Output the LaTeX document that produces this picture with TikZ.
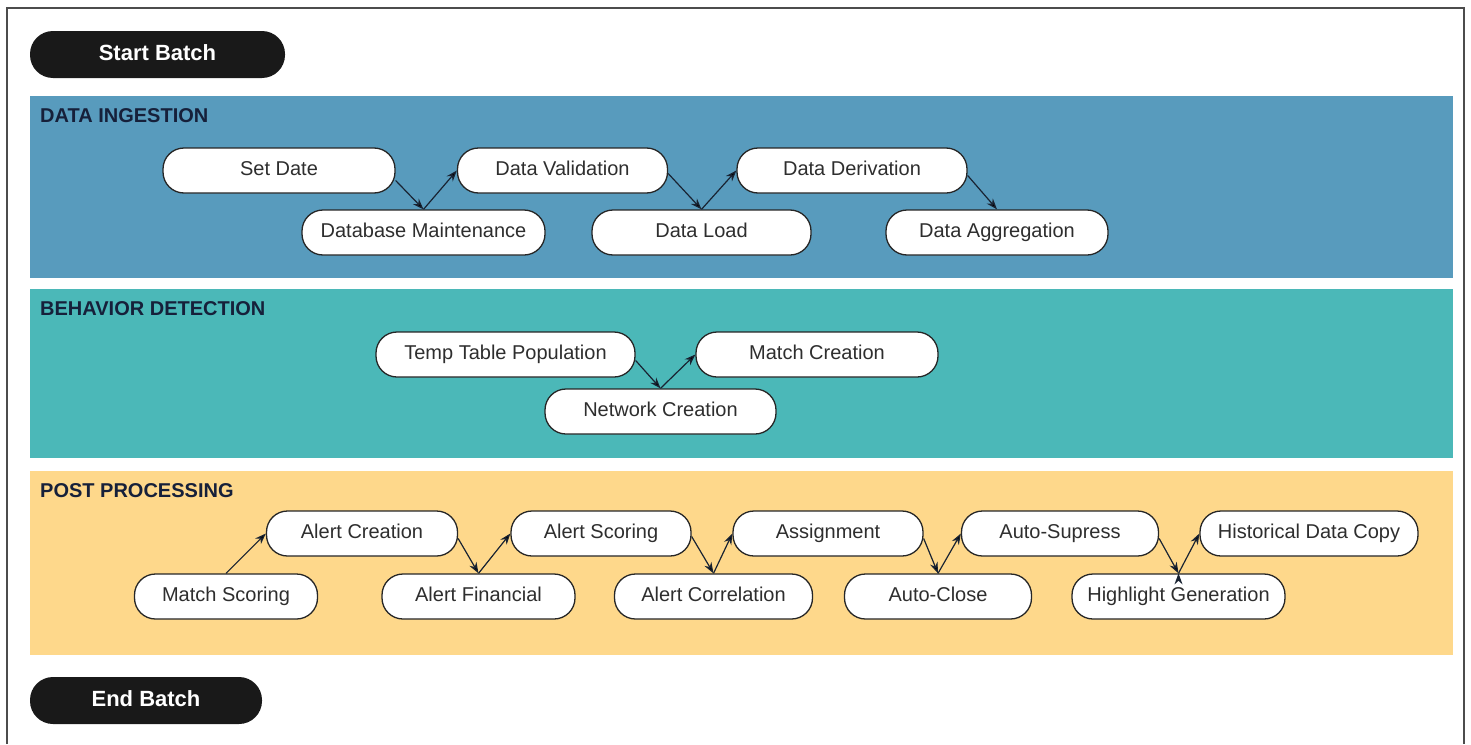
\documentclass[tikz,border=0pt]{standalone}
\usepackage{fontspec}
\setmainfont{Liberation Sans}
\usetikzlibrary{arrows.meta, positioning}

\definecolor{ingestblue}{RGB}{88,155,189}
\definecolor{detectteal}{RGB}{75,184,184}
\definecolor{postyellow}{RGB}{254,216,139}
\definecolor{titlenavy}{RGB}{22,32,58}
\definecolor{arrowdark}{RGB}{25,35,50}

\begin{document}
\begin{tikzpicture}[x=1pt,y=-1pt,>={Stealth[length=11pt,width=8pt]}]
		\tikzstyle{task}=[draw=black!85, fill=white, line width=1.3pt, rounded corners=21pt, minimum height=45pt, inner sep=0pt, text height=14pt, text depth=4pt, text=black!82, font=\fontsize{20}{24}\selectfont]
		\tikzstyle{batch}=[fill=black!90, rounded corners=23pt, minimum height=47pt, inner sep=0pt, text height=15pt, text depth=4pt, text=white, font=\fontsize{22}{26}\selectfont\bfseries]
		\tikzstyle{stage}=[anchor=west, inner sep=0pt, text=titlenavy, font=\fontsize{20}{24}\selectfont\bfseries]
		\tikzstyle{flow}=[->, draw=arrowdark, line width=1.2pt]

		\useasboundingbox (0,0) rectangle (1471,744);
		\fill[white] (0,0) rectangle (1471,744);
		\draw[line width=2.5pt, black!70] (7,744) -- (7,8) -- (1464,8) -- (1464,744);

		% bands
		\fill[ingestblue] (30,96) rectangle (1453,278);
		\fill[detectteal] (30,289) rectangle (1453,458);
		\fill[postyellow] (30,471) rectangle (1453,655);

		\node[batch, minimum width=255pt] (start) at (157.5,54.5) {Start Batch};
		\node[batch, minimum width=232pt] (end) at (146,700.5) {End Batch};

		\node[stage] (ingest) at (40,116) {DATA INGESTION};
		\node[stage] (detect) at (40,309) {BEHAVIOR DETECTION};
		\node[stage] (post) at (40,491) {POST PROCESSING};

		% data ingestion
		\node[task, minimum width=232pt] (setdate)   at (279,170.5)   {Set Date};
		\node[task, minimum width=243pt] (dbmaint)   at (423.5,232.5) {Database Maintenance};
		\node[task, minimum width=210pt] (validate)  at (562.5,170.5) {Data Validation};
		\node[task, minimum width=219pt] (dataload)  at (701.5,232.5) {Data Load};
		\node[task, minimum width=230pt] (derive)    at (852,170.5)   {Data Derivation};
		\node[task, minimum width=222pt] (aggregate) at (997,232.5)   {Data Aggregation};

		% behavior detection
		\node[task, minimum width=259pt] (temptable)   at (505.5,354.5) {Temp Table Population};
		\node[task, minimum width=242pt] (matchcreate) at (817,354.5)   {Match Creation};
		\node[task, minimum width=231pt] (network)     at (660.5,411.5) {Network Creation};

		% post processing
		\node[task, minimum width=183pt] (matchscore)  at (226,596.5)  {Match Scoring};
		\node[task, minimum width=191pt] (alertcreate) at (362,533.5)  {Alert Creation};
		\node[task, minimum width=193pt] (financial)   at (478.5,596.5) {Alert Financial};
		\node[task, minimum width=180pt] (alertscore)  at (601,533.5)  {Alert Scoring};
		\node[task, minimum width=198pt] (correlate)   at (713.5,596.5) {Alert Correlation};
		\node[task, minimum width=190pt] (assign)      at (828,533.5)  {Assignment};
		\node[task, minimum width=187pt] (autoclose)   at (938,596.5)  {Auto-Close};
		\node[task, minimum width=197pt] (autosupress) at (1060,533.5) {Auto-Supress};
		\node[task, minimum width=213pt] (highlight)   at (1178.5,596.5) {Highlight Generation};
		\node[task, minimum width=218pt] (histcopy)    at (1309,533.5) {Historical Data Copy};

		\path[flow] ([yshift=-10pt]setdate.east) edge (dbmaint.north)
			(dbmaint.north) edge (validate.west)
			([yshift=-3pt]validate.east) edge (dataload.north)
			(dataload.north) edge (derive.west)
			([yshift=-5pt]derive.east) edge (aggregate.north)
			([yshift=-6pt]temptable.east) edge (network.north)
			(network.north) edge (matchcreate.west)
			(matchscore.north) edge (alertcreate.west)
			([yshift=-5pt]alertcreate.east) edge (financial.north)
			(financial.north) edge (alertscore.west)
			([yshift=-3pt]alertscore.east) edge (correlate.north)
			(correlate.north) edge (assign.west)
			([yshift=-5pt]assign.east) edge (autoclose.north)
			(autoclose.north) edge (autosupress.west)
			([yshift=-5pt]autosupress.east) edge (highlight.north)
			(highlight.north) edge (histcopy.west);
	\end{tikzpicture}
\end{document}
